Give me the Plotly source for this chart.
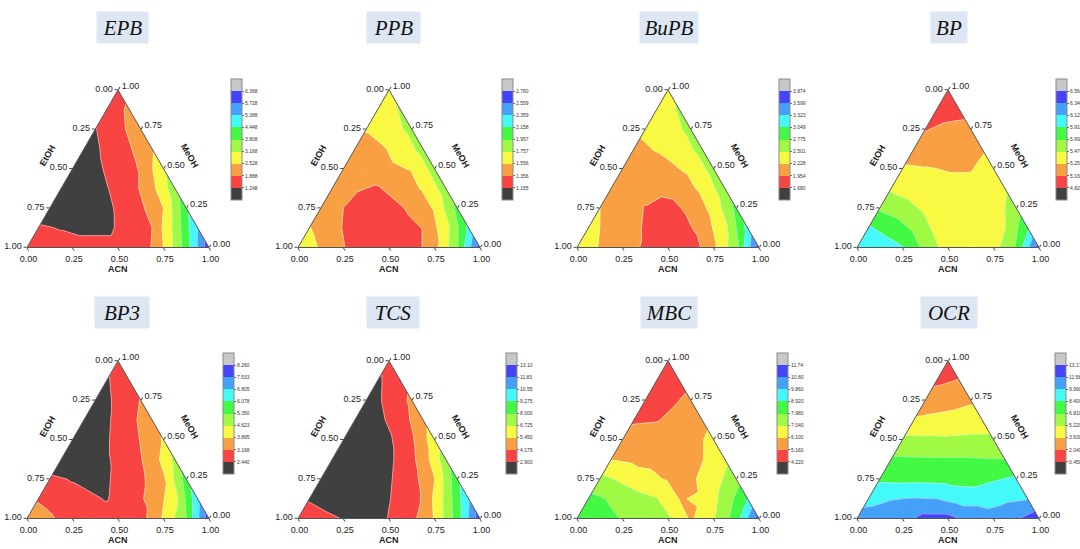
import math
import numpy as np
import plotly.graph_objects as go

# ---------------- data ----------------
# lattice compositions: rows from MeOH = 1 (top) to MeOH = 0 (bottom); ACN rises along each row
MEOH_ROWS = [1.0, 0.875, 0.75, 0.625, 0.5, 0.375, 0.25, 0.125, 0.0]
ACN_GRID = [0.0, 0.125, 0.25, 0.375, 0.5, 0.625, 0.75, 0.875, 1.0]

TICK_VALS = [0.0, 0.25, 0.5, 0.75, 1.0]
TICK_TEXT = ["1.00", "0.75", "0.50", "0.25", "0.00"]

NAMES = ["EPB", "PPB", "BuPB", "BP", "BP3", "TCS", "MBC", "OCR"]

EPB = [[1.57],
       [1.44, 2.02],
       [1.22, 1.70, 2.27],
       [0.93, 1.38, 1.82, 2.46],
       [0.86, 1.12, 1.50, 1.95, 3.04],
       [0.86, 0.99, 1.22, 1.57, 2.34, 3.55],
       [0.93, 0.93, 0.99, 1.31, 1.76, 2.53, 4.26],
       [1.31, 1.22, 1.12, 1.12, 1.50, 1.89, 3.36, 5.09],
       [1.50, 1.44, 1.44, 1.44, 1.44, 1.38, 2.53, 4.13, 6.11]]
PPB = [[1.716],
       [1.616, 1.776],
       [1.566, 1.656, 1.817],
       [1.496, 1.516, 1.616, 1.837],
       [1.435, 1.456, 1.526, 1.566, 1.837],
       [1.415, 1.375, 1.335, 1.456, 1.576, 1.857],
       [1.415, 1.355, 1.275, 1.275, 1.395, 1.576, 2.017],
       [1.566, 1.415, 1.275, 1.235, 1.275, 1.365, 1.676, 2.198],
       [1.636, 1.542, 1.365, 1.235, 1.235, 1.255, 1.476, 1.937, 2.659]]
BuPB = [[2.447],
        [2.338, 2.529],
        [2.269, 2.365, 2.584],
        [2.173, 2.242, 2.338, 2.612],
        [2.091, 2.118, 2.173, 2.283, 2.612],
        [2.064, 2.036, 2.036, 2.091, 2.283, 2.666],
        [2.230, 2.091, 1.940, 1.844, 2.036, 2.310, 2.858],
        [2.310, 2.146, 2.009, 1.844, 1.817, 2.064, 2.420, 3.132],
        [2.365, 2.214, 2.036, 1.927, 1.790, 1.790, 2.173, 2.694, 3.735]]
BP = [[4.929],
      [4.951, 4.973],
      [5.027, 5.082, 5.103],
      [5.125, 5.147, 5.147, 5.234],
      [5.289, 5.267, 5.245, 5.245, 5.343],
      [5.441, 5.365, 5.321, 5.300, 5.321, 5.441],
      [5.659, 5.561, 5.430, 5.321, 5.300, 5.343, 5.605],
      [5.932, 5.823, 5.648, 5.409, 5.343, 5.365, 5.463, 5.866],
      [6.084, 6.019, 5.921, 5.627, 5.365, 5.321, 5.387, 5.714, 6.455]]
BP3 = [[2.658],
       [2.367, 2.876],
       [2.076, 2.586, 3.204],
       [2.003, 2.331, 2.949, 3.604],
       [2.003, 2.076, 2.658, 3.204, 3.968],
       [2.003, 2.003, 2.367, 2.804, 3.459, 4.804],
       [2.549, 2.404, 2.222, 2.549, 3.022, 3.750, 5.714],
       [3.095, 2.658, 2.586, 2.404, 2.804, 3.386, 4.332, 6.587],
       [3.531, 3.313, 2.658, 2.658, 2.731, 2.876, 3.968, 5.360, 7.969]]
TCS = [[3.283],
       [2.709, 3.665],
       [2.263, 3.219, 4.430],
       [2.008, 2.581, 3.538, 5.068],
       [2.008, 2.135, 2.709, 3.984, 6.151],
       [2.008, 2.008, 2.263, 3.155, 4.685, 7.490],
       [2.135, 2.008, 2.008, 2.773, 3.665, 5.386, 8.893],
       [2.773, 2.263, 2.135, 2.390, 3.283, 4.303, 7.108, 10.423],
       [3.665, 3.283, 2.836, 2.263, 2.964, 3.793, 5.578, 8.638, 12.590]]
MBC = [[4.596],
       [4.690, 4.878],
       [4.784, 4.972, 5.348],
       [5.066, 5.113, 5.442, 5.818],
       [5.442, 5.536, 5.630, 5.724, 6.382],
       [6.081, 5.912, 5.818, 5.818, 6.053, 6.852],
       [7.322, 6.852, 6.382, 6.006, 5.912, 6.664, 7.604],
       [8.262, 7.886, 7.416, 7.087, 6.053, 6.194, 7.416, 8.930],
       [8.638, 8.262, 7.933, 7.510, 7.181, 5.959, 6.946, 8.450, 11.270]]
OCR = [[0.927],
       [1.722, 2.120],
       [2.756, 2.994, 3.392],
       [3.789, 4.028, 4.266, 4.425],
       [5.618, 5.538, 5.459, 5.538, 5.538],
       [7.049, 6.969, 6.969, 6.969, 6.890, 6.842],
       [8.082, 8.003, 8.003, 7.923, 7.764, 8.241, 8.639],
       [9.513, 9.911, 10.070, 9.980, 9.354, 9.354, 9.672, 9.911],
       [10.626, 10.785, 11.103, 12.057, 12.057, 11.103, 10.626, 11.421, 12.534]]

EPB_LEVELS = [1.248, 1.888, 2.528, 3.168, 3.808, 4.448, 5.088, 5.728, 6.368]
PPB_LEVELS = [1.155, 1.356, 1.556, 1.757, 1.957, 2.158, 2.359, 2.559, 2.760]
BuPB_LEVELS = [1.680, 1.954, 2.228, 2.501, 2.775, 3.049, 3.323, 3.599, 3.874]
BP_LEVELS = [4.820, 5.038, 5.256, 5.474, 5.692, 5.910, 6.128, 6.346, 6.564]
BP3_LEVELS = [2.440, 3.168, 3.895, 4.623, 5.350, 6.078, 6.805, 7.533, 8.260]
TCS_LEVELS = [2.900, 4.175, 5.450, 6.725, 8.000, 9.275, 10.55, 11.83, 13.10]
MBC_LEVELS = [4.220, 5.160, 6.100, 7.040, 7.980, 8.920, 9.860, 10.80, 11.74]
OCR_LEVELS = [0.450, 2.040, 3.630, 5.220, 6.810, 8.400, 9.990, 11.58, 13.17]

VALUES = {"EPB": EPB, "PPB": PPB, "BuPB": BuPB, "BP": BP,
          "BP3": BP3, "TCS": TCS, "MBC": MBC, "OCR": OCR}
LEVELS = {"EPB": EPB_LEVELS, "PPB": PPB_LEVELS, "BuPB": BuPB_LEVELS, "BP": BP_LEVELS,
          "BP3": BP3_LEVELS, "TCS": TCS_LEVELS, "MBC": MBC_LEVELS, "OCR": OCR_LEVELS}

BAND_COLORS = ["#404040", "#f94444", "#f9a044", "#f9f944", "#a0f944",
               "#44f944", "#44f9f9", "#44a0f9", "#4444f9", "#c8c8c8"]

# ---------------- layout geometry (pixels) ----------------
FIG_W, FIG_H = 1080, 549
TRI_W = 182
TRI_H = TRI_W * math.sqrt(3) / 2
ROW_BOTTOM = [247.5, 518.5]
COL_X0 = [27, 298, 577, 857]
CBAR_X = [[231, 502, 779, 1056], [223, 506, 777, 1055]]
CBAR_Y = [[79, 200], [353, 474]]
TITLE_X = [122, 393, 669, 949]
TITLE_Y = [28, 312]
TITLE_W = {"EPB": 47, "PPB": 49, "BuPB": 54, "BP": 32, "BP3": 50, "TCS": 48, "MBC": 52, "OCR": 52}


def px(x):
    return x / FIG_W


def py(y):
    return 1 - y / FIG_H


def lattice(rows):
    pts = {}
    for r, row in enumerate(rows):
        m = MEOH_ROWS[r]
        for i, v in enumerate(row):
            c = ACN_GRID[i]
            b = max(0.0, round(1 - m - c, 6))
            pts[(r, i)] = np.array([m, b, c, v], dtype=float)
    return pts


def triangles(n):
    for r in range(n):
        for i in range(r + 1):
            yield ((r, i), (r + 1, i), (r + 1, i + 1))
        for i in range(r):
            yield ((r, i), (r, i + 1), (r + 1, i + 1))


def clip(poly, level, above):
    out = []
    n = len(poly)
    for k in range(n):
        P, Q = poly[k], poly[(k + 1) % n]
        pin = (P[3] >= level) if above else (P[3] < level)
        qin = (Q[3] >= level) if above else (Q[3] < level)
        if pin:
            out.append(P)
        if pin != qin:
            t = (level - P[3]) / (Q[3] - P[3])
            out.append(P + t * (Q - P))
    return out


def fmt(v):
    return f"{v:.3f}" if v < 10 else f"{v:.2f}"


fig = go.Figure()
layout_ternaries = {}
annotations = []

axis_style = dict(
    title=dict(text=""), tickmode="array", tickvals=TICK_VALS, ticktext=TICK_TEXT,
    ticks="outside", ticklen=3, tickwidth=0.8, tickcolor="#444",
    showline=True, linecolor="#555", linewidth=1,
    showgrid=True, gridcolor="rgba(95,95,95,0.45)", gridwidth=0.6,
    layer="above traces", min=0,
    tickfont=dict(size=9, color="#222", family="Liberation Sans, Arial"),
)

for idx, name in enumerate(NAMES):
    row, col = divmod(idx, 4)
    sub = "ternary" if idx == 0 else f"ternary{idx + 1}"
    rows = VALUES[name]
    levels = LEVELS[name]
    pts = lattice(rows)
    bounds = [-math.inf] + levels + [math.inf]
    band_polys = [[] for _ in range(10)]
    seg_a, seg_b, seg_c = [], [], []
    for tri in triangles(len(rows) - 1):
        poly = [pts[k] for k in tri]
        for k in range(10):
            p = poly
            if k > 0:
                p = clip(p, bounds[k], True)
            if len(p) >= 3 and k < 9:
                p = clip(p, bounds[k + 1], False)
            if len(p) >= 3:
                band_polys[k].append(p)
        for L in levels:
            cr = []
            for e in range(3):
                P, Q = poly[e], poly[(e + 1) % 3]
                if (P[3] - L) * (Q[3] - L) < 0:
                    t = (L - P[3]) / (Q[3] - P[3])
                    cr.append(P + t * (Q - P))
            if len(cr) == 2:
                for q in cr:
                    seg_a.append(q[0]); seg_b.append(q[1]); seg_c.append(q[2])
                seg_a.append(None); seg_b.append(None); seg_c.append(None)

    for k in range(10):
        if not band_polys[k]:
            continue
        a, b, c = [], [], []
        for p in band_polys[k]:
            for q in p + [p[0]]:
                a.append(q[0]); b.append(q[1]); c.append(q[2])
            a.append(None); b.append(None); c.append(None)
        fig.add_trace(go.Scatterternary(
            a=a, b=b, c=c, mode="lines", fill="toself", fillcolor=BAND_COLORS[k],
            line=dict(color=BAND_COLORS[k], width=0.7), subplot=sub,
            hoverinfo="skip", showlegend=False))

    fig.add_trace(go.Scatterternary(
        a=seg_a, b=seg_b, c=seg_c, mode="lines",
        line=dict(color="rgba(255,255,255,0.55)", width=0.8), subplot=sub,
        hoverinfo="skip", showlegend=False))

    # colour scale (discrete bands) attached to the data points
    step = levels[1] - levels[0]
    cmin, cmax = levels[0] - step, levels[-1] + step
    cs = []
    for k, col_ in enumerate(BAND_COLORS):
        cs.append([k / 10, col_])
        cs.append([(k + 1) / 10, col_])
    all_a = [pts[k][0] for k in pts]
    all_b = [pts[k][1] for k in pts]
    all_c = [pts[k][2] for k in pts]
    all_v = [pts[k][3] for k in pts]
    cbx = CBAR_X[row][col]
    cy0, cy1 = CBAR_Y[row]
    fig.add_trace(go.Scatterternary(
        a=all_a, b=all_b, c=all_c, mode="markers", subplot=sub,
        hoverinfo="skip", showlegend=False,
        marker=dict(size=2, opacity=0, color=all_v, colorscale=cs, cmin=cmin, cmax=cmax,
                    showscale=True,
                    colorbar=dict(x=px(cbx), xanchor="left", y=py(cy0), yanchor="top",
                                  len=cy1 - cy0, lenmode="pixels", thickness=11,
                                  thicknessmode="pixels", xpad=0, ypad=0,
                                  outlinewidth=1, outlinecolor="#8a8a8a",
                                  tickmode="array", tickvals=levels,
                                  ticktext=[fmt(v) for v in levels],
                                  ticks="outside", ticklen=2, tickwidth=0.6, tickcolor="#666",
                                  tickfont=dict(size=5, color="#333",
                                                family="Liberation Sans, Arial")))))

    x0 = COL_X0[col]
    yb = ROW_BOTTOM[row]
    layout_ternaries[sub] = dict(
        domain=dict(x=[px(x0), px(x0 + TRI_W)], y=[py(yb), py(yb - TRI_H)]),
        sum=1, bgcolor="white",
        aaxis=axis_style, baxis=axis_style, caxis=axis_style)

    lab_font = dict(size=9, color="#222", family="Liberation Sans, Arial")
    common = dict(xref="paper", yref="paper", xanchor="center", yanchor="middle", showarrow=False)
    annotations.append(dict(x=px(x0 + 20), y=py(yb - 92), text="<b>EtOH</b>", textangle=-60,
                            font=lab_font, **common))
    annotations.append(dict(x=px(x0 + 163), y=py(yb - 92), text="<b>MeOH</b>", textangle=60,
                            font=lab_font, **common))
    annotations.append(dict(x=px(x0 + 91), y=py(yb + 21), text="<b>ACN</b>",
                            font=lab_font, **common))
    annotations.append(dict(x=px(TITLE_X[col]), y=py(TITLE_Y[row]), text=f"<i>{name}</i>",
                            font=dict(size=21, color="#111", family="Liberation Serif, Times New Roman"),
                            bgcolor="#dde7f3", width=TITLE_W[name], height=27, borderpad=2,
                            **common))

fig.update_layout(
    width=FIG_W, height=FIG_H,
    margin=dict(l=0, r=0, t=0, b=0, autoexpand=False),
    paper_bgcolor="white", plot_bgcolor="white",
    showlegend=False, annotations=annotations,
    **layout_ternaries,
)

fig.write_html("out.html")
